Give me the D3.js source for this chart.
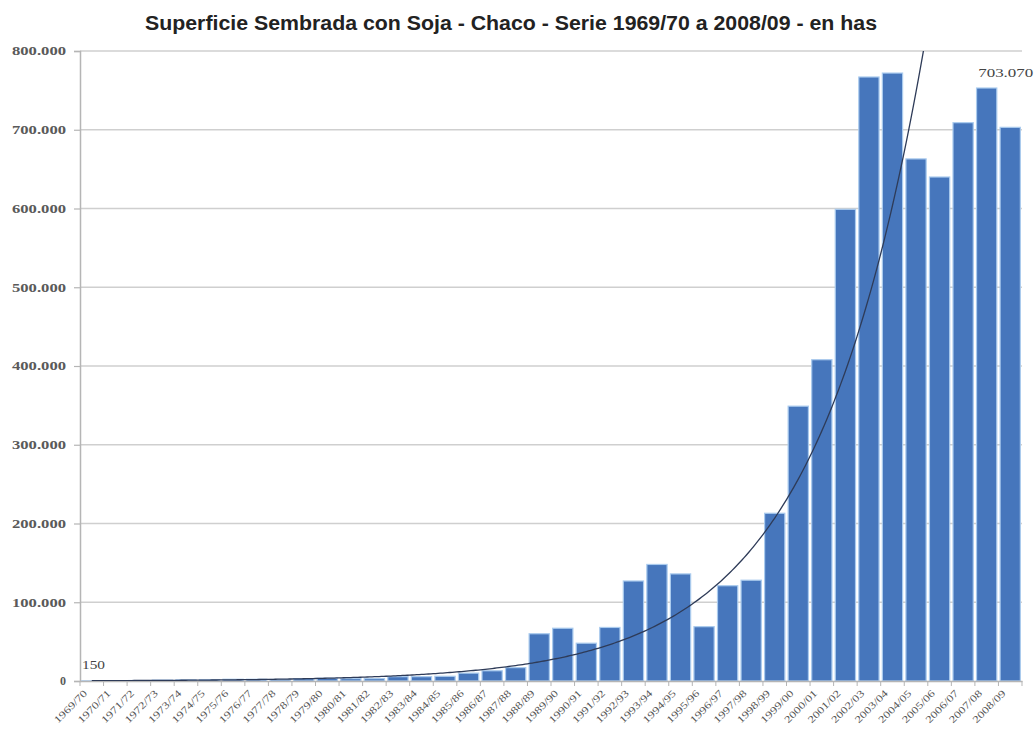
<!DOCTYPE html>
<html>
<head>
<meta charset="utf-8">
<script src="https://cdn.jsdelivr.net/npm/d3@7"></script>
<style>
  html, body { margin: 0; padding: 0; background: #ffffff; }
  svg { display: block; }
</style>
</head>
<body>
<svg id="chart" width="1036" height="744"></svg>
<script>
// ---- data ----
const categories = ["1969/70","1970/71","1971/72","1972/73","1973/74","1974/75","1975/76","1976/77","1977/78","1978/79",
  "1979/80","1980/81","1981/82","1982/83","1983/84","1984/85","1985/86","1986/87","1987/88","1988/89",
  "1989/90","1990/91","1991/92","1992/93","1993/94","1994/95","1995/96","1996/97","1997/98","1998/99",
  "1999/00","2000/01","2001/02","2002/03","2003/04","2004/05","2005/06","2006/07","2007/08","2008/09"];
const hectares = [150, 300, 600, 1200, 1500, 1800, 2200, 2200, 2000, 3000,
  3500, 3000, 3000, 5500, 5500, 6000, 10000, 13000, 17000, 60000,
  67000, 48000, 68000, 127000, 148000, 136000, 69000, 121000, 128000, 213000,
  349000, 408000, 599000, 767000, 772000, 663000, 640000, 709000, 753000, 703070];
const yTicks = [0, 100000, 200000, 300000, 400000, 500000, 600000, 700000, 800000];
const labelledPoints = [0, 39]; // indices carrying a data label
const title = "Superficie Sembrada con Soja - Chaco - Serie 1969/70 a 2008/09 - en has";

// ---- layout ----
const W = 1036, H = 744;
const plot = { left: 80, right: 1022, top: 51, bottom: 681 };
const svg = d3.select("#chart");
svg.append("rect").attr("width", W).attr("height", H).attr("fill", "#ffffff");

const locale = d3.formatLocale({ decimal: ",", thousands: ".", grouping: [3], currency: ["$", ""] });
const fmt = locale.format(",");

const x = d3.scaleBand().domain(categories).range([plot.left, plot.right]).paddingInner(0.14).paddingOuter(0.07);
const y = d3.scaleLinear().domain([0, 800000]).range([plot.bottom, plot.top]);
const step = x.step();

// title
svg.append("text")
  .attr("x", 511).attr("y", 30)
  .attr("text-anchor", "middle")
  .attr("font-family", "Liberation Sans, Arial, sans-serif")
  .attr("font-weight", "bold")
  .attr("font-size", 20)
  .attr("fill", "#222")
  .attr("textLength", 732).attr("lengthAdjust", "spacingAndGlyphs")
  .text(title);

// gridlines
svg.append("g").selectAll("line").data(yTicks.filter(d => d > 0)).join("line")
  .attr("x1", plot.left).attr("x2", plot.right)
  .attr("y1", d => y(d)).attr("y2", d => y(d))
  .attr("stroke", "#cfcfcf").attr("stroke-width", 1.5);

// y axis
const yAxis = svg.append("g").attr("transform", `translate(${plot.left},0)`)
  .call(d3.axisLeft(y).tickValues(yTicks).tickFormat(fmt).tickSize(6).tickPadding(8));
yAxis.select(".domain").attr("stroke", "#b5b5b5").attr("stroke-width", 1.5);
yAxis.selectAll(".tick line").attr("stroke", "#b5b5b5").attr("stroke-width", 1.2);
yAxis.selectAll(".tick text")
  .attr("font-family", "Liberation Serif, Times New Roman, serif")
  .attr("font-weight", "bold")
  .attr("font-size", 12)
  .attr("fill", "#5a5a5a")
  .each(function(d) { if (d > 0) d3.select(this).attr("textLength", 54).attr("lengthAdjust", "spacingAndGlyphs"); });

// bars
svg.append("g").selectAll("rect").data(hectares).join("rect")
  .attr("x", (d, i) => x(categories[i]))
  .attr("width", x.bandwidth())
  .attr("y", d => y(d))
  .attr("height", d => y(0) - y(d))
  .attr("fill", "#4676bc")
  .attr("stroke", "#aacbee")
  .attr("stroke-width", 1.2);

// x axis
const xAxis = svg.append("g").attr("transform", `translate(0,${plot.bottom})`)
  .call(d3.axisBottom(x).tickSize(0).tickFormat(""));
xAxis.select(".domain").attr("stroke", "#b5b5b5").attr("stroke-width", 1.5);
// tick marks at band boundaries
svg.append("g").selectAll("line").data(d3.range(categories.length + 1)).join("line")
  .attr("x1", i => plot.left + i * step).attr("x2", i => plot.left + i * step)
  .attr("y1", plot.bottom).attr("y2", plot.bottom + 5)
  .attr("stroke", "#b5b5b5").attr("stroke-width", 1);
// rotated labels
svg.append("g").selectAll("text").data(categories).join("text")
  .attr("transform", d => `translate(${x(d) + x.bandwidth() / 2 - 4},${plot.bottom + 13}) rotate(-45)`)
  .attr("text-anchor", "end")
  .attr("font-family", "Liberation Serif, Times New Roman, serif")
  .attr("font-size", 10)
  .attr("fill", "#555")
  .attr("textLength", 42).attr("lengthAdjust", "spacingAndGlyphs")
  .text(d => d);

// exponential trendline (least squares on ln y, like a spreadsheet trendline)
const n = hectares.length;
const lx = d3.range(n), ly = hectares.map(v => Math.log(v));
const mx = d3.mean(lx), my = d3.mean(ly);
const slope = d3.sum(lx, (v, i) => (v - mx) * (ly[i] - my)) / d3.sum(lx, v => (v - mx) * (v - mx));
const icept = my - slope * mx;
const idx = d3.scaleLinear().domain([0, n - 1])
  .range([x(categories[0]) + x.bandwidth() / 2, x(categories[n - 1]) + x.bandwidth() / 2]);
const samples = d3.range(0, n - 1 + 1e-9, 0.1);
svg.append("clipPath").attr("id", "plotclip").append("rect")
  .attr("x", plot.left).attr("y", plot.top).attr("width", plot.right - plot.left).attr("height", plot.bottom - plot.top);
svg.append("path")
  .datum(samples)
  .attr("clip-path", "url(#plotclip)")
  .attr("fill", "none")
  .attr("stroke", "#2e3b58")
  .attr("stroke-width", 1.3)
  .attr("d", d3.line().x(t => idx(t)).y(t => y(Math.exp(icept + slope * t))));

// data labels
const lblOffset = { 0: 12, 39: 50 };
svg.append("g").selectAll("text").data(labelledPoints).join("text")
  .attr("x", i => i === 0 ? plot.left + 2 : x(categories[i]) + x.bandwidth() / 2 - 32)
  .attr("y", i => y(hectares[i]) - lblOffset[i])
  .attr("font-family", "Liberation Serif, Times New Roman, serif")
  .attr("font-size", 13)
  .attr("fill", "#444")
  .attr("textLength", i => i === 0 ? 23 : 55).attr("lengthAdjust", "spacingAndGlyphs")
  .text(i => fmt(hectares[i]));
</script>
</body>
</html>
